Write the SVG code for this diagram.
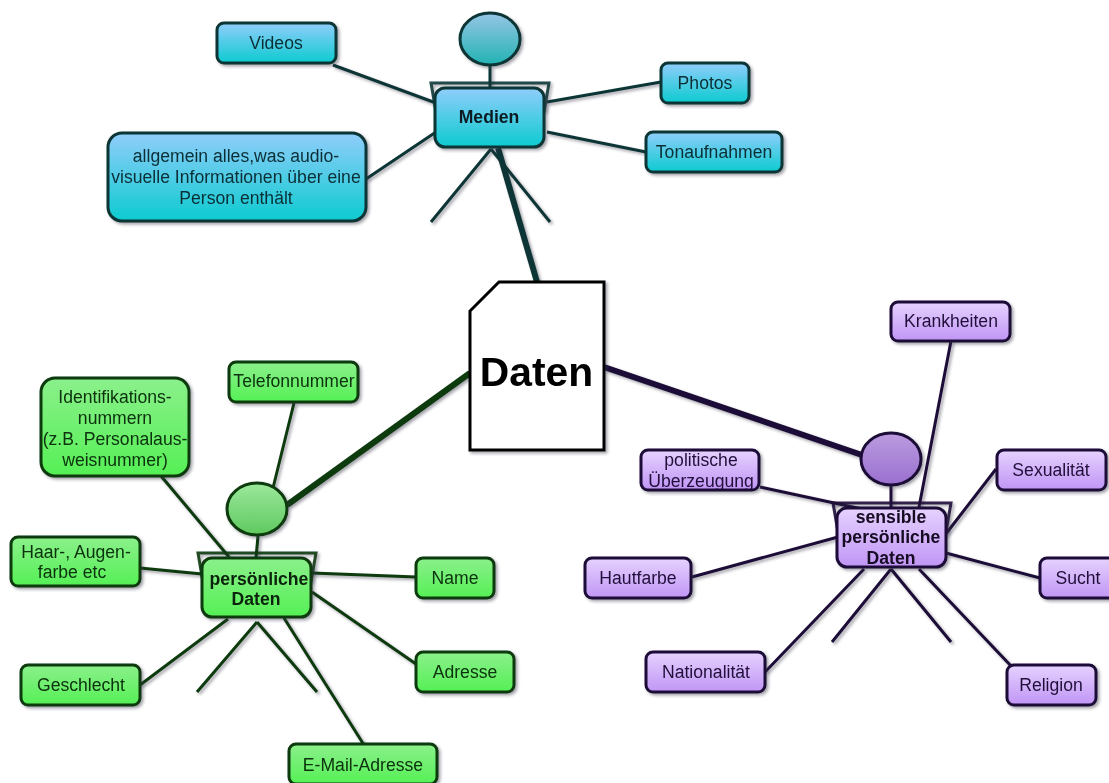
<svg xmlns="http://www.w3.org/2000/svg" width="1109" height="783" viewBox="0 0 1109 783">
<style>
text{font-family:"Liberation Sans",Arial,sans-serif;font-size:17.6px;text-anchor:middle;transform:translateY(.8px)}
.b{font-weight:bold}
.t text{fill:#0a2f36}.g text{fill:#0a300c}.p text{fill:#20103a}
.t rect,.t .s{stroke:#093636}.g rect,.g .s{stroke:#0b3a0b}.p rect,.p .s{stroke:#1f0d38}
rect,.s{stroke-width:3}
.t rect{fill:url(#gt)}.g rect{fill:url(#gg)}.p rect{fill:url(#gp)}
.l{fill:none;stroke-linecap:butt}
.lt{stroke:#093636}.lg{stroke:#0b3a0b}.lp{stroke:#1f0d38}
.fig{stroke-width:3;fill:none;opacity:.9}
</style>
<defs>
<linearGradient id="gt" x1="0" y1="0" x2="0" y2="1"><stop offset="0" stop-color="#90cdfb"/><stop offset="1" stop-color="#0ccbd0"/></linearGradient>
<linearGradient id="gg" x1="0" y1="0" x2="0" y2="1"><stop offset="0" stop-color="#8bf08b"/><stop offset="1" stop-color="#55f055"/></linearGradient>
<linearGradient id="gp" x1="0" y1="0" x2="0" y2="1"><stop offset="0" stop-color="#e6d2ff"/><stop offset="1" stop-color="#c095f5"/></linearGradient>
<linearGradient id="ht" x1="0" y1="0" x2="0" y2="1"><stop offset="0" stop-color="#96c5e5"/><stop offset="1" stop-color="#22b3b3"/></linearGradient>
<linearGradient id="hg" x1="0" y1="0" x2="0" y2="1"><stop offset="0" stop-color="#9be89b"/><stop offset="1" stop-color="#5fc95f"/></linearGradient>
<linearGradient id="hp" x1="0" y1="0" x2="0" y2="1"><stop offset="0" stop-color="#bb9be0"/><stop offset="1" stop-color="#9a70cf"/></linearGradient>
<filter id="sh" x="-20%" y="-20%" width="140%" height="140%"><feDropShadow dx="2" dy="2" stdDeviation="1.5" flood-color="#334" flood-opacity=".45"/></filter>
</defs>

<g id="connectors" filter="url(#sh)">
<g class="l lt" stroke-width="3">
<path d="M333 65L436 103M547 102L661 82M547 132L646 152M366 179L436 132"/>
<path d="M490 66V88"/>
<path d="M491 149L431 222M491 149L550 222"/>
</g>
<path class="l lt" stroke-width="6" d="M498 148L537 282"/>
<g class="l lg" stroke-width="3">
<path d="M294 403L273 488M161 476L229 557M140 568L202 574M312 573L416 577M140 685L228 619M312 592L416 664M284 618L364 745"/>
<path d="M258 536L256 558"/>
<path d="M257 622L197 692M257 622L317 692"/>
</g>
<path class="l lg" stroke-width="6" d="M287 505L470 373"/>
<g class="l lp" stroke-width="3">
<path d="M951 341L919 507M760 487L862 509M692 577L838 537M996 469L945 535M946 553L1040 578M765 672L864 569M919 569L1012 667"/>
<path d="M891 486V508"/>
<path d="M891 569L832 642M891 569L951 642"/>
</g>
<path class="l lp" stroke-width="6" d="M604 367L862 455"/>
</g>

<g id="figure-medien" class="t" filter="url(#sh)">
<ellipse class="s" cx="490" cy="39" rx="30" ry="26" fill="url(#ht)"/>
<path class="s fig" d="M436 112L431 83H549L544 112"/>
</g>
<g id="figure-persoenlich" class="g" filter="url(#sh)">
<ellipse class="s" cx="257" cy="509" rx="30" ry="26" fill="url(#hg)"/>
<path class="s fig" d="M203 582L198 553H316L311 582"/>
</g>
<g id="figure-sensibel" class="p" filter="url(#sh)">
<ellipse class="s" cx="891" cy="459" rx="30" ry="26" fill="url(#hp)"/>
<path class="s fig" d="M838 532L833 503H951L946 532"/>
</g>

<g id="daten" filter="url(#sh)">
<path d="M499 282H604V450H470V311Z" fill="#fff" stroke="#000" stroke-width="3"/>
<text class="b" x="536.500" y="385" style="font-size:40.800px" fill="#000">Daten</text>
</g>

<g id="medien" class="t" filter="url(#sh)"><rect x="435" y="88" width="109" height="59" rx="10"/><text class="b" x="489" y="122" style="fill:#0a1a22">Medien</text></g>
<g id="videos" class="t" filter="url(#sh)"><rect x="217" y="23" width="119" height="40" rx="7"/><text x="276" y="48">Videos</text></g>
<g id="photos" class="t" filter="url(#sh)"><rect x="661" y="63" width="88" height="40" rx="7"/><text x="705" y="88">Photos</text></g>
<g id="tonaufnahmen" class="t" filter="url(#sh)"><rect x="646" y="132" width="136" height="40" rx="7"/><text x="714" y="157">Tonaufnahmen</text></g>
<g id="allgemein" class="t" filter="url(#sh)"><rect x="108" y="133" width="258" height="88" rx="14"/><text x="236" y="161">allgemein alles,was audio-</text><text x="236" y="182">visuelle Informationen über eine</text><text x="236" y="203">Person enthält</text></g>

<g id="persoenliche" class="g" filter="url(#sh)"><rect x="202" y="558" width="109" height="59" rx="10"/><text class="b" x="259" y="584" style="fill:#0a220a">persönliche</text><text class="b" x="256" y="604" style="fill:#0a220a">Daten</text></g>
<g id="telefon" class="g" filter="url(#sh)"><rect x="229" y="362" width="129" height="40" rx="7"/><text x="294" y="386">Telefonnummer</text></g>
<g id="ident" class="g" filter="url(#sh)"><rect x="41" y="378" width="148" height="98" rx="14"/><text x="115" y="402">Identifikations-</text><text x="115" y="423">nummern</text><text x="115" y="444">(z.B. Personalaus-</text><text x="115" y="465">weisnummer)</text></g>
<g id="haar" class="g" filter="url(#sh)"><rect x="11" y="537" width="129" height="49" rx="7"/><text x="76" y="557">Haar-, Augen-</text><text x="72" y="577">farbe etc</text></g>
<g id="name" class="g" filter="url(#sh)"><rect x="416" y="558" width="78" height="40" rx="7"/><text x="455" y="583">Name</text></g>
<g id="adresse" class="g" filter="url(#sh)"><rect x="416" y="652" width="98" height="40" rx="7"/><text x="465" y="677">Adresse</text></g>
<g id="geschlecht" class="g" filter="url(#sh)"><rect x="21" y="665" width="119" height="40" rx="7"/><text x="81" y="690">Geschlecht</text></g>
<g id="email" class="g" filter="url(#sh)"><rect x="289" y="744" width="148" height="40" rx="7"/><text x="363" y="770">E-Mail-Adresse</text></g>

<g id="sensible" class="p" filter="url(#sh)"><rect x="837" y="508" width="109" height="59" rx="10"/><text class="b" x="891" y="522" style="fill:#150a22">sensible</text><text class="b" x="891" y="542" style="fill:#150a22">persönliche</text><text class="b" x="891" y="563" style="fill:#150a22">Daten</text></g>
<g id="krankheiten" class="p" filter="url(#sh)"><rect x="891" y="302" width="119" height="39" rx="7"/><text x="951" y="326">Krankheiten</text></g>
<g id="politisch" class="p" filter="url(#sh)"><rect x="641" y="450" width="118" height="40" rx="7"/><text x="701" y="465">politische</text><text x="701" y="486">Überzeugung</text></g>
<g id="sexualitaet" class="p" filter="url(#sh)"><rect x="997" y="450" width="109" height="40" rx="7"/><text x="1051" y="475">Sexualität</text></g>
<g id="hautfarbe" class="p" filter="url(#sh)"><rect x="585" y="558" width="106" height="40" rx="7"/><text x="638" y="583">Hautfarbe</text></g>
<g id="sucht" class="p" filter="url(#sh)"><rect x="1040" y="558" width="78" height="40" rx="7"/><text x="1078" y="583">Sucht</text></g>
<g id="nationalitaet" class="p" filter="url(#sh)"><rect x="646" y="652" width="119" height="40" rx="7"/><text x="706" y="677">Nationalität</text></g>
<g id="religion" class="p" filter="url(#sh)"><rect x="1007" y="665" width="89" height="40" rx="7"/><text x="1051" y="690">Religion</text></g>
</svg>
